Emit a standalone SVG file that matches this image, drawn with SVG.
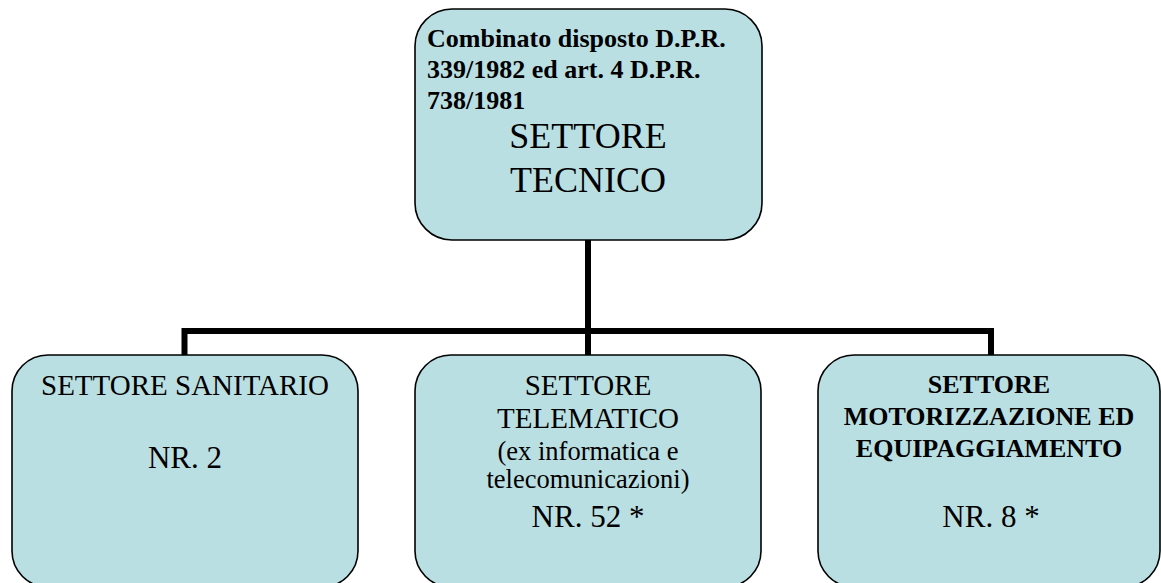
<svg xmlns="http://www.w3.org/2000/svg" width="1161" height="583" viewBox="0 0 1161 583">
<style>
.box{fill:#badfe2;stroke:#000;stroke-width:1.6}
.c{text-anchor:middle}
.conn{fill:none;stroke:#000;stroke-width:6;stroke-linejoin:miter}
</style>
<rect width="1161" height="583" fill="#fff"/>
<g id="connectors">
<path class="conn" d="M184.5,355 V331 H991 V355"/>
<path class="conn" d="M588,240 V355"/>
</g>
<g id="node-tecnico" font-family="Liberation Serif" fill="#000">
<rect class="box" x="415" y="9" width="347" height="231" rx="37" ry="37"/>
<text font-family="Liberation Serif" font-weight="bold" font-size="26" x="427" y="47">Combinato disposto D.P.R.</text>
<text font-family="Liberation Serif" font-weight="bold" font-size="26" x="427" y="78">339/1982 ed art. 4 D.P.R.</text>
<text font-family="Liberation Serif" font-weight="bold" font-size="26" x="427" y="109">738/1981</text>
<text font-family="Liberation Serif" class="c" font-size="36" x="588" y="148">SETTORE</text>
<text font-family="Liberation Serif" class="c" font-size="36" x="588" y="192">TECNICO</text>
</g>
<g id="node-sanitario" font-family="Liberation Serif" fill="#000">
<rect class="box" x="12" y="355" width="346" height="232" rx="36" ry="36"/>
<text font-family="Liberation Serif" class="c" font-size="29" x="185" y="395">SETTORE SANITARIO</text>
<text font-family="Liberation Serif" class="c" font-size="31" x="185" y="468">NR. 2</text>
</g>
<g id="node-telematico" font-family="Liberation Serif" fill="#000">
<rect class="box" x="415" y="355" width="346" height="232" rx="36" ry="36"/>
<text font-family="Liberation Serif" class="c" font-size="29" x="588" y="395">SETTORE</text>
<text font-family="Liberation Serif" class="c" font-size="29" x="588" y="428">TELEMATICO</text>
<text font-family="Liberation Serif" class="c" font-size="26.5" x="588" y="460">(ex informatica e</text>
<text font-family="Liberation Serif" class="c" font-size="26.5" x="588" y="488">telecomunicazioni)</text>
<text font-family="Liberation Serif" class="c" font-size="31" x="588" y="527">NR. 52 *</text>
</g>
<g id="node-motorizzazione" font-family="Liberation Serif" fill="#000">
<rect class="box" x="818" y="355" width="342" height="232" rx="36" ry="36"/>
<text font-family="Liberation Serif" font-weight="bold" class="c" font-size="26" x="989" y="393">SETTORE</text>
<text font-family="Liberation Serif" font-weight="bold" class="c" font-size="26" x="989" y="425">MOTORIZZAZIONE ED</text>
<text font-family="Liberation Serif" font-weight="bold" class="c" font-size="26" x="989" y="457">EQUIPAGGIAMENTO</text>
<text font-family="Liberation Serif" class="c" font-size="31" x="991" y="527">NR. 8 *</text>
</g>
</svg>
